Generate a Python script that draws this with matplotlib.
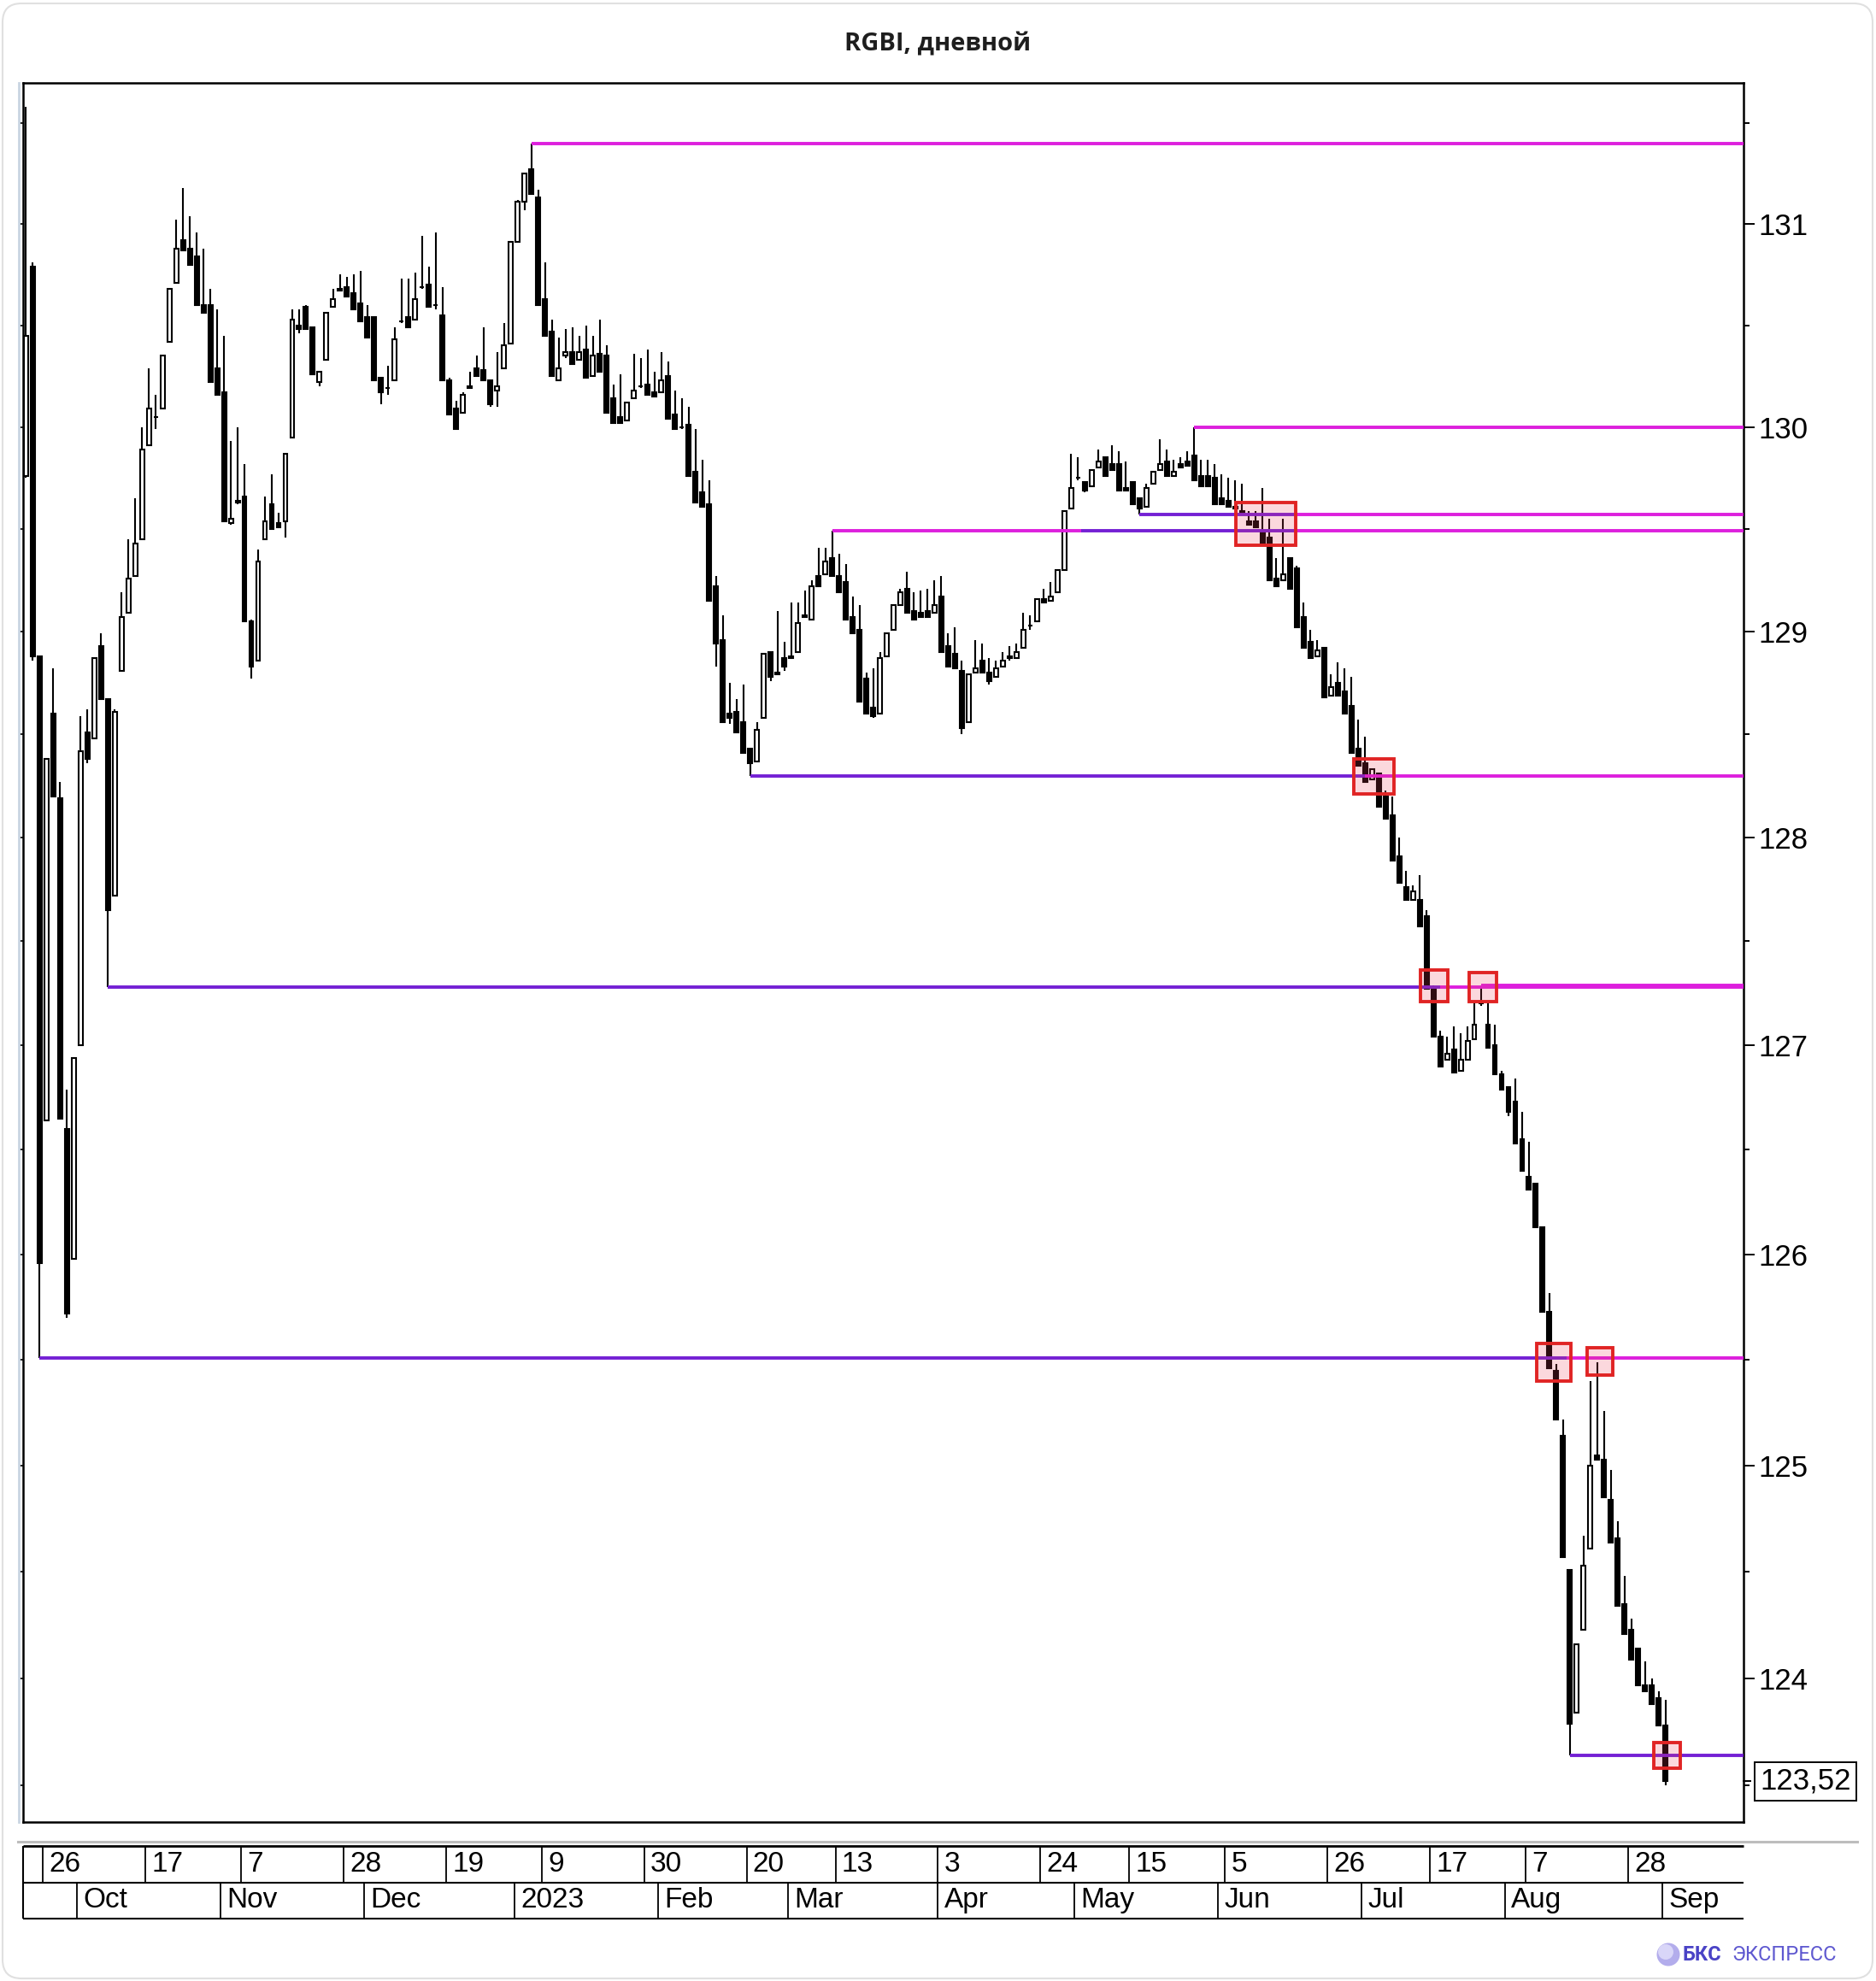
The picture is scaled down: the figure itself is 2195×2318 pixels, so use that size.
import matplotlib
matplotlib.use("Agg")
import matplotlib.pyplot as plt
import matplotlib.transforms as mtransforms
from matplotlib.patches import Rectangle, FancyBboxPatch, Circle
from matplotlib.lines import Line2D
from matplotlib.ticker import FixedLocator, FixedFormatter, NullFormatter
import numpy as np

plt.rcParams['font.family'] = ['Liberation Sans', 'DejaVu Sans']

# ---- daily candles, RGBI (index = trading day) ----
opens = [
    129.76, 130.79, 128.88, 126.64, 128.60, 128.19, 126.60, 125.98, 127.00, 128.51,
    128.48, 128.93, 128.67, 127.72, 128.81, 129.09, 129.27, 129.45, 129.91, 130.05,
    130.09, 130.42, 130.71, 130.92, 130.88, 130.84, 130.60, 130.60, 130.29, 130.17,
    129.53, 129.64, 129.66, 129.05, 128.86, 129.45, 129.62, 129.53, 129.54, 129.95,
    130.50, 130.59, 130.49, 130.22, 130.33, 130.59, 130.68, 130.69, 130.66, 130.61,
    130.54, 130.54, 130.24, 130.19, 130.23, 130.52, 130.54, 130.53, 130.69, 130.70,
    130.60, 130.55, 130.23, 130.09, 130.07, 130.19, 130.29, 130.28, 130.23, 130.18,
    130.29, 130.41, 130.91, 131.11, 131.27, 131.13, 130.63, 130.47, 130.23, 130.35,
    130.37, 130.33, 130.38, 130.25, 130.36, 130.35, 130.14, 130.05, 130.03, 130.14,
    130.20, 130.21, 130.17, 130.17, 130.25, 130.06, 130.00, 130.01, 129.78, 129.68,
    129.62, 129.22, 128.96, 128.60, 128.61, 128.56, 128.43, 128.37, 128.58, 128.90,
    128.80, 128.87, 128.87, 128.90, 129.07, 129.06, 129.27, 129.28, 129.36, 129.27,
    129.24, 129.07, 129.01, 128.77, 128.63, 128.60, 128.88, 129.01, 129.13, 129.21,
    129.10, 129.09, 129.10, 129.09, 129.17, 128.93, 128.89, 128.81, 128.56, 128.80,
    128.86, 128.80, 128.78, 128.83, 128.88, 128.87, 128.92, 129.03, 129.05, 129.16,
    129.15, 129.19, 129.30, 129.60, 129.75, 129.73, 129.71, 129.80, 129.85, 129.82,
    129.82, 129.70, 129.73, 129.65, 129.61, 129.72, 129.79, 129.83, 129.76, 129.82,
    129.83, 129.86, 129.76, 129.76, 129.75, 129.65, 129.64, 129.61, 129.59, 129.54,
    129.54, 129.49, 129.46, 129.26, 129.25, 129.36, 129.31, 129.07, 128.95, 128.88,
    128.92, 128.69, 128.75, 128.71, 128.64, 128.43, 128.36, 128.28, 128.31, 128.20,
    128.11, 127.91, 127.76, 127.70, 127.70, 127.62, 127.27, 127.04, 126.93, 126.98,
    126.88, 126.93, 127.03, 127.20, 127.10, 127.00, 126.86, 126.80, 126.73, 126.55,
    126.37, 126.34, 126.13, 125.73, 125.45, 125.14, 124.51, 123.84, 124.23, 124.61,
    125.05, 125.03, 124.84, 124.66, 124.35, 124.23, 124.14, 123.97, 123.97, 123.91,
    123.78,
]
highs = [
    131.58, 130.81, 128.88, 128.38, 128.82, 128.27, 126.79, 126.94, 128.59, 128.62,
    128.87, 128.99, 128.67, 128.62, 129.19, 129.45, 129.65, 130.00, 130.29, 130.16,
    130.35, 130.68, 131.02, 131.18, 131.04, 130.96, 130.88, 130.68, 130.58, 130.45,
    129.93, 130.00, 129.82, 129.06, 129.40, 129.66, 129.77, 129.58, 129.87, 130.58,
    130.58, 130.60, 130.49, 130.27, 130.56, 130.68, 130.75, 130.74, 130.75, 130.77,
    130.60, 130.54, 130.24, 130.30, 130.49, 130.73, 130.73, 130.76, 130.94, 130.79,
    130.96, 130.69, 130.24, 130.13, 130.17, 130.27, 130.35, 130.49, 130.23, 130.37,
    130.51, 130.91, 131.12, 131.25, 131.40, 131.17, 130.81, 130.53, 130.44, 130.48,
    130.49, 130.45, 130.50, 130.45, 130.53, 130.40, 130.21, 130.26, 130.12, 130.36,
    130.34, 130.38, 130.27, 130.37, 130.32, 130.18, 130.14, 130.10, 129.99, 129.84,
    129.74, 129.27, 129.08, 128.75, 128.67, 128.74, 128.43, 128.56, 128.89, 128.90,
    129.10, 128.95, 129.14, 129.14, 129.20, 129.25, 129.41, 129.41, 129.49, 129.38,
    129.33, 129.17, 129.13, 128.80, 128.82, 128.90, 128.99, 129.13, 129.21, 129.29,
    129.19, 129.20, 129.21, 129.25, 129.27, 128.99, 129.02, 128.86, 128.79, 128.96,
    128.94, 128.87, 128.86, 128.90, 128.93, 128.94, 129.09, 129.08, 129.16, 129.21,
    129.24, 129.30, 129.59, 129.87, 129.85, 129.73, 129.79, 129.89, 129.85, 129.91,
    129.88, 129.83, 129.73, 129.65, 129.72, 129.78, 129.94, 129.89, 129.84, 129.85,
    129.88, 130.00, 129.84, 129.84, 129.82, 129.77, 129.75, 129.74, 129.72, 129.59,
    129.59, 129.70, 129.55, 129.36, 129.55, 129.36, 129.32, 129.14, 129.01, 128.96,
    128.92, 128.79, 128.85, 128.82, 128.78, 128.57, 128.49, 128.33, 128.31, 128.23,
    128.20, 128.00, 127.84, 127.77, 127.82, 127.65, 127.29, 127.07, 127.04, 127.09,
    127.06, 127.09, 127.21, 127.29, 127.21, 127.10, 126.88, 126.80, 126.84, 126.68,
    126.54, 126.34, 126.13, 125.82, 125.48, 125.22, 124.51, 124.16, 124.67, 125.40,
    125.49, 125.26, 124.98, 124.74, 124.48, 124.28, 124.14, 124.08, 124.00, 123.94,
    123.90,
]
lows = [
    129.75, 128.86, 125.51, 126.64, 128.20, 126.65, 125.70, 125.98, 127.00, 128.36,
    128.48, 128.67, 127.28, 127.72, 128.81, 129.09, 129.27, 129.45, 129.91, 129.99,
    130.09, 130.42, 130.71, 130.87, 130.80, 130.60, 130.56, 130.22, 130.16, 129.54,
    129.52, 129.62, 129.05, 128.77, 128.86, 129.45, 129.50, 129.51, 129.46, 129.95,
    130.46, 130.48, 130.26, 130.20, 130.33, 130.59, 130.67, 130.64, 130.58, 130.52,
    130.44, 130.23, 130.11, 130.16, 130.23, 130.51, 130.49, 130.53, 130.68, 130.59,
    130.58, 130.23, 130.06, 129.99, 130.07, 130.19, 130.25, 130.23, 130.10, 130.10,
    130.29, 130.41, 130.91, 131.07, 131.15, 130.60, 130.45, 130.25, 130.23, 130.34,
    130.31, 130.33, 130.24, 130.25, 130.27, 130.07, 130.02, 130.02, 130.03, 130.14,
    130.19, 130.16, 130.15, 130.17, 130.04, 129.99, 129.99, 129.76, 129.63, 129.61,
    129.15, 128.83, 128.56, 128.55, 128.51, 128.41, 128.30, 128.37, 128.58, 128.76,
    128.79, 128.81, 128.87, 128.90, 129.07, 129.06, 129.22, 129.28, 129.27, 129.19,
    129.06, 128.99, 128.66, 128.60, 128.58, 128.60, 128.88, 129.01, 129.13, 129.09,
    129.06, 129.07, 129.07, 129.09, 128.90, 128.83, 128.82, 128.50, 128.56, 128.80,
    128.80, 128.74, 128.78, 128.83, 128.86, 128.87, 128.92, 129.01, 129.05, 129.14,
    129.15, 129.19, 129.30, 129.60, 129.74, 129.68, 129.71, 129.80, 129.76, 129.79,
    129.69, 129.69, 129.62, 129.57, 129.61, 129.72, 129.79, 129.76, 129.76, 129.80,
    129.81, 129.74, 129.71, 129.71, 129.62, 129.62, 129.61, 129.60, 129.57, 129.52,
    129.51, 129.43, 129.25, 129.22, 129.25, 129.21, 129.02, 128.92, 128.87, 128.88,
    128.68, 128.69, 128.69, 128.60, 128.41, 128.35, 128.27, 128.28, 128.15, 128.09,
    127.89, 127.78, 127.70, 127.70, 127.57, 127.27, 127.04, 126.90, 126.93, 126.87,
    126.88, 126.93, 127.03, 127.19, 126.99, 126.86, 126.79, 126.66, 126.53, 126.40,
    126.31, 126.13, 125.73, 125.46, 125.22, 124.57, 123.64, 123.84, 124.23, 124.61,
    125.03, 124.85, 124.64, 124.34, 124.21, 124.09, 123.97, 123.94, 123.88, 123.78,
    123.50,
]
closes = [
    130.45, 128.88, 125.96, 128.38, 128.20, 126.65, 125.72, 126.94, 128.42, 128.38,
    128.87, 128.67, 127.65, 128.61, 129.07, 129.26, 129.43, 129.89, 130.09, 130.05,
    130.35, 130.68, 130.88, 130.87, 130.80, 130.60, 130.56, 130.22, 130.16, 129.54,
    129.55, 129.63, 129.05, 128.83, 129.34, 129.54, 129.50, 129.51, 129.87, 130.53,
    130.48, 130.48, 130.26, 130.27, 130.56, 130.63, 130.67, 130.64, 130.58, 130.52,
    130.44, 130.23, 130.17, 130.19, 130.43, 130.52, 130.49, 130.63, 130.69, 130.59,
    130.60, 130.23, 130.06, 129.99, 130.16, 130.20, 130.25, 130.23, 130.11, 130.20,
    130.40, 130.91, 131.11, 131.25, 131.15, 130.60, 130.45, 130.25, 130.29, 130.37,
    130.31, 130.37, 130.24, 130.35, 130.27, 130.07, 130.02, 130.02, 130.12, 130.18,
    130.20, 130.16, 130.15, 130.23, 130.04, 129.99, 130.00, 129.76, 129.63, 129.61,
    129.15, 128.94, 128.56, 128.58, 128.51, 128.41, 128.36, 128.52, 128.89, 128.78,
    128.79, 128.83, 128.88, 129.04, 129.08, 129.22, 129.22, 129.34, 129.27, 129.19,
    129.06, 128.99, 128.66, 128.60, 128.59, 128.87, 128.99, 129.13, 129.19, 129.09,
    129.06, 129.07, 129.07, 129.13, 128.90, 128.83, 128.82, 128.53, 128.79, 128.82,
    128.80, 128.76, 128.82, 128.86, 128.87, 128.90, 129.01, 129.03, 129.16, 129.14,
    129.17, 129.30, 129.59, 129.70, 129.75, 129.69, 129.79, 129.83, 129.76, 129.79,
    129.69, 129.69, 129.62, 129.60, 129.70, 129.78, 129.82, 129.76, 129.78, 129.80,
    129.81, 129.74, 129.71, 129.71, 129.62, 129.62, 129.61, 129.60, 129.57, 129.52,
    129.51, 129.43, 129.25, 129.22, 129.28, 129.21, 129.02, 128.92, 128.87, 128.91,
    128.68, 128.73, 128.69, 128.60, 128.41, 128.35, 128.27, 128.33, 128.15, 128.09,
    127.89, 127.78, 127.70, 127.74, 127.57, 127.27, 127.04, 126.90, 126.96, 126.87,
    126.93, 127.02, 127.10, 127.21, 126.99, 126.86, 126.79, 126.68, 126.53, 126.40,
    126.31, 126.13, 125.73, 125.46, 125.22, 124.57, 123.79, 124.16, 124.53, 125.00,
    125.03, 124.85, 124.64, 124.34, 124.21, 124.09, 123.97, 123.94, 123.88, 123.78,
    123.52,
]

# support / resistance levels: start candle, which extreme, first role, role flips
level_start = [74, 171, 163, 118, 106, 12, 2, 226, 213]
level_side = ['high', 'high', 'low', 'high', 'low', 'low', 'low', 'low', 'high']
level_first = ['res', 'res', 'sup', 'res', 'sup', 'sup', 'sup', 'sup', 'res']
level_flips = [[], [], [185.6], [154.5, 185.6], [196], [207], [225.5], [], []]

# breakout markers
box_from = [177.1, 194.3, 204.1, 211.3, 221.1, 228.5, 238.3]
box_to = [185.9, 200.2, 208.1, 215.3, 226.1, 232.3, 242.1]
box_lo = [129.42, 128.21, 127.21, 127.21, 125.40, 125.43, 123.58]
box_hi = [129.63, 128.38, 127.36, 127.35, 125.58, 125.56, 123.70]

# date scale
day_idx = [3, 18, 32, 47, 62, 76, 91, 106, 119, 134, 149, 162, 176, 191, 206, 220, 235]
day_lbl = ['26', '17', '7', '28', '19', '9', '30', '20', '13', '3', '24', '15', '5', '26', '17', '7', '28']
month_idx = [8, 29, 50, 72, 93, 112, 134, 154, 175, 196, 217, 240]
month_lbl = ['Oct', 'Nov', 'Dec', '2023', 'Feb', 'Mar', 'Apr', 'May', 'Jun', 'Jul', 'Aug', 'Sep']

price_ticks = [124, 125, 126, 127, 128, 129, 130, 131]
half_ticks = [123.5, 124.5, 125.5, 126.5, 127.5, 128.5, 129.5, 130.5, 131.5]

n = min(len(opens), len(highs), len(lows), len(closes))
o = np.array(opens[:n]); h = np.array(highs[:n]); l = np.array(lows[:n]); c = np.array(closes[:n])
x = np.arange(n)

W, H, DPI = 2195, 2318, 100
fig = plt.figure(figsize=(W / DPI, H / DPI), dpi=DPI)

def fx(px):
    return px / W

def fy(py):
    return 1 - py / H

# card outline
fig.add_artist(FancyBboxPatch((0.03, 0.03), (W - 7) / DPI, (H - 7) / DPI,
                              boxstyle='round,pad=0,rounding_size=0.22',
                              transform=fig.dpi_scale_trans, facecolor='white',
                              edgecolor='#e0e0e0', lw=1.5, zorder=0))

XMIN, XMAX = -0.4, 251.4
ax = fig.add_axes([fx(27), fy(2132), fx(2040) - fx(27), fy(97) - fy(2132)])
ax.set_yscale('log')
ax.set_xlim(XMIN, XMAX)
ax.set_ylim(123.33, 131.70)

# candles
ax.vlines(x, l, h, color='black', lw=1.5, zorder=2)
bot = np.minimum(o, c)
top = np.maximum(o, c)
up = c >= o
ax.bar(x[up], (top - bot)[up], bottom=bot[up], width=0.62, facecolor='white',
       edgecolor='black', lw=1.5, zorder=3)
ax.bar(x[~up], (top - bot)[~up], bottom=bot[~up], width=0.62, facecolor='black',
       edgecolor='black', lw=1.5, zorder=3)

# levels
role_color = {'res': '#dd1fdd', 'sup': '#7420d4'}
for s, side, first, flips in zip(level_start, level_side, level_first, level_flips):
    price = h[s] if side == 'high' else l[s]
    edges = [s] + flips + [XMAX]
    role = first
    for a, b in zip(edges[:-1], edges[1:]):
        ax.hlines(price, a, b, color=role_color[role], lw=2.8, zorder=4)
        role = 'sup' if role == 'res' else 'res'

# breakout boxes
for x0, x1, y0, y1 in zip(box_from, box_to, box_lo, box_hi):
    ax.add_patch(Rectangle((x0, y0), x1 - x0, y1 - y0, facecolor=(0.92, 0.25, 0.35, 0.2),
                           edgecolor='#e02424', lw=2.8, zorder=5))

# axes styling
for sp in ax.spines.values():
    sp.set_linewidth(1.8)
    sp.set_color('black')
ax.yaxis.tick_right()
ax.yaxis.set_major_locator(FixedLocator(price_ticks))
ax.yaxis.set_major_formatter(FixedFormatter([str(t) for t in price_ticks]))
ax.yaxis.set_minor_locator(FixedLocator(half_ticks))
ax.yaxis.set_minor_formatter(NullFormatter())
ax.tick_params(axis='y', which='major', right=True, left=False, length=9.5, width=1.4,
               pad=3, labelsize=25)
ax.tick_params(axis='y', which='minor', right=True, left=False, length=5, width=1.4)
ax.tick_params(axis='x', which='both', bottom=False, labelbottom=False)

trans = mtransforms.blended_transform_factory(ax.transAxes, ax.transData)
for t in sorted(price_ticks + half_ticks):
    ax.plot([-0.002, 0], [t, t], transform=trans, color='black', lw=1.2, clip_on=False)
fig.add_artist(Line2D([fx(22), fx(22)], [fy(97), fy(2132)], color='#c9d5e2', lw=2))

# last price box
last = c[-1]
ax.plot([1, 1.004], [last, last], transform=trans, color='black', lw=1.4, clip_on=False)
ax.annotate(f"{last:.2f}".replace('.', ','), xy=(1, last), xycoords=trans,
            xytext=(19, 0), textcoords='offset pixels', ha='left', va='center',
            fontsize=25, bbox=dict(boxstyle='square,pad=0.18', fc='white', ec='black', lw=1.4))

# date bar
dax = fig.add_axes([fx(27), fy(2245), fx(2040) - fx(27), fy(2160) - fy(2245)])
dax.set_xlim(XMIN, XMAX)
dax.set_ylim(0, 2)
dax.axis('off')
dax.hlines([0, 1, 2], XMIN, XMAX, colors='black', lw=[1.5, 1.5, 2.0], clip_on=False)
dax.vlines(XMIN, 0, 2, colors='black', lw=1.5, clip_on=False)
for i, lab in zip(day_idx, day_lbl):
    dax.vlines(i - 0.5, 1, 2, colors='black', lw=1.3)
    dax.text(i + 0.4, 1.5, lab, ha='left', va='center', fontsize=24)
for i, lab in zip(month_idx, month_lbl):
    dax.vlines(i - 0.5, 0, 1, colors='black', lw=1.3)
    dax.text(i + 0.4, 0.5, lab, ha='left', va='center', fontsize=24)

fig.add_artist(Line2D([fx(21), fx(2173)], [fy(2155), fy(2155)], color='#bdbdbd', lw=2.2))

# title
fig.text(0.5, fy(52), 'RGBI, дневной', ha='center', va='center', fontsize=21,
         fontweight='bold', family=['Open Sans', 'DejaVu Sans'], color='#1e1e1e')

# logo
fig.add_artist(Circle((19.52, (H - 2287) / DPI), 0.135, transform=fig.dpi_scale_trans,
                      facecolor='#b3adec', edgecolor='none'))
fig.add_artist(Circle((19.49, (H - 2284) / DPI), 0.09, transform=fig.dpi_scale_trans,
                      facecolor='#d9d6f8', edgecolor='none'))
fig.text(fx(1968), fy(2287), 'БКС', ha='left', va='center', fontsize=17, fontweight='bold',
         color='#4a43c6', family=['Roboto', 'DejaVu Sans'])
fig.text(fx(2026), fy(2287), 'ЭКСПРЕСС', ha='left', va='center', fontsize=17,
         color='#5f59d0', family=['Roboto', 'DejaVu Sans'])

fig.savefig('out.png', dpi=DPI, facecolor='white')
